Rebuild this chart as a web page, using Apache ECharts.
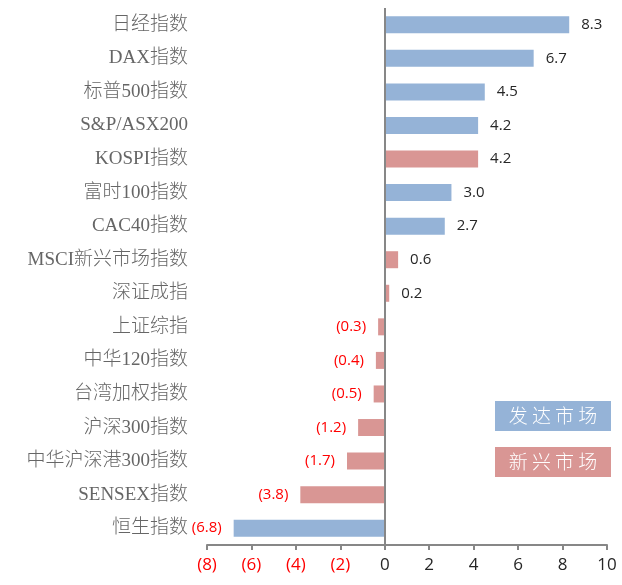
<!DOCTYPE html>
<html>
<head>
<meta charset="utf-8">
<script src="https://cdn.jsdelivr.net/npm/echarts@6/dist/echarts.min.js"></script>
<style>
  html, body { margin: 0; padding: 0; background: #fff; }
  #main { width: 622px; height: 585px; }
</style>
</head>
<body>
<div id="main"></div>
<script>
// 指数名称
var categories = ['日经指数', 'DAX指数', '标普500指数', 'S&P/ASX200', 'KOSPI指数', '富时100指数', 'CAC40指数',
  'MSCI新兴市场指数', '深证成指', '上证综指', '中华120指数', '台湾加权指数', '沪深300指数', '中华沪深港300指数',
  'SENSEX指数', '恒生指数'];
// 涨跌幅(%)
var values = [8.3, 6.7, 4.5, 4.2, 4.2, 3.0, 2.7, 0.6, 0.2, -0.3, -0.4, -0.5, -1.2, -1.7, -3.8, -6.8];
// 市场类型
var markets = ['发达市场', '发达市场', '发达市场', '发达市场', '新兴市场', '发达市场', '发达市场',
  '新兴市场', '新兴市场', '新兴市场', '新兴市场', '新兴市场', '新兴市场', '新兴市场',
  '新兴市场', '发达市场'];
var marketNames = ['发达市场', '新兴市场'];
var xTicks = [-8, -6, -4, -2, 0, 2, 4, 6, 8, 10];

var colors = { '发达市场': '#95b3d7', '新兴市场': '#d99694' };
var numFont = '"Open Sans", "Liberation Sans", sans-serif';
var catFont = '"Liberation Serif", "Noto Sans CJK SC", serif';

var chart = echarts.init(document.getElementById('main'));

var barData = values.map(function (v, i) {
  return {
    value: v,
    itemStyle: { color: colors[markets[i]] },
    label: {
      position: v < 0 ? 'left' : 'right',
      color: v < 0 ? '#ff0000' : '#262626'
    }
  };
});

function fmt(v) {
  return v < 0 ? '(' + Math.abs(v).toFixed(1) + ')' : v.toFixed(1);
}

var option = {
  animation: false,
  grid: { left: 207, right: 15, top: 8, bottom: 40 },
  xAxis: {
    type: 'value',
    min: xTicks[0],
    max: xTicks[xTicks.length - 1],
    interval: 2,
    splitLine: { show: false },
    axisLine: { show: true, onZero: false, lineStyle: { color: '#878787', width: 2 } },
    axisTick: { show: true, length: 5, lineStyle: { color: '#878787', width: 2 } },
    axisLabel: {
      margin: 12,
      fontSize: 17,
      fontFamily: numFont,
      formatter: function (v) { return v < 0 ? '(' + Math.abs(v) + ')' : String(v); },
      color: function (v) { return v < 0 ? '#ff0000' : '#262626'; }
    }
  },
  yAxis: {
    type: 'category',
    inverse: true,
    data: categories,
    axisLine: { show: false, onZero: false },
    axisTick: { show: false },
    axisLabel: { margin: 19, fontSize: 19, color: '#666666', fontFamily: catFont, fontWeight: 300, padding: [5, 0, 0, 0] }
  },
  series: [{
    type: 'bar',
    data: barData,
    barWidth: 17,
    label: {
      show: true,
      distance: 12,
      fontSize: 15,
      fontFamily: numFont,
      formatter: function (p) { return fmt(p.value); }
    },
    markLine: {
      silent: true,
      symbol: 'none',
      label: { show: false },
      lineStyle: { color: '#878787', width: 2, type: 'solid' },
      data: [{ xAxis: 0 }]
    }
  }],
  graphic: marketNames.map(function (name, i) {
    return {
      type: 'rect',
      left: 495,
      top: 401 + i * 46,
      shape: { width: 116, height: 30 },
      style: { fill: colors[name] },
      textContent: {
        style: { text: name.split('').join(' '), fill: '#ffffff', font: '300 19px "Noto Sans CJK SC", sans-serif' }
      },
      textConfig: { position: 'inside' }
    };
  })
};

chart.setOption(option);
</script>
</body>
</html>
